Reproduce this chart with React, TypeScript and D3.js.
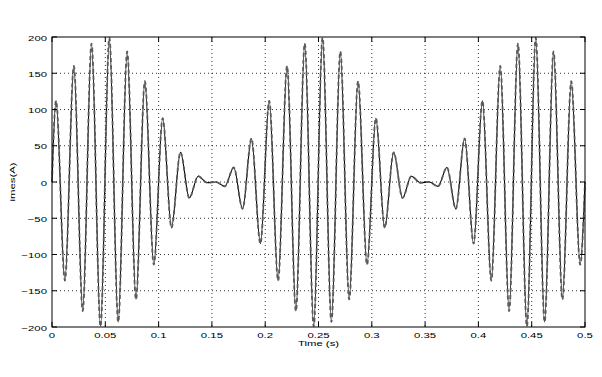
import React from "react";
import * as d3 from "d3";

// Extrema of the current trace (time in s, current in A)
const times = [
  0, 0.0038, 0.0121, 0.0205, 0.0288, 0.0371, 0.0455, 0.0538, 0.0621, 0.0705, 0.0788,
  0.0871, 0.0955, 0.1038, 0.1121, 0.1205, 0.1288, 0.1371, 0.1455, 0.1538, 0.1621,
  0.1705, 0.1788, 0.1871, 0.1955, 0.2038, 0.2121, 0.2205, 0.2288, 0.2371, 0.2455,
  0.2538, 0.2621, 0.2705, 0.2788, 0.2871, 0.2955, 0.3038, 0.3121, 0.3205, 0.3288,
  0.3371, 0.3455, 0.3538, 0.3621, 0.3705, 0.3788, 0.3871, 0.3955, 0.4038, 0.4121,
  0.4205, 0.4288, 0.4371, 0.4455, 0.4538, 0.4621, 0.4705, 0.4788, 0.4871, 0.4955, 0.5,
];
const imes = [
  0, 112, -136, 160, -178, 191, -199, 199, -193, 180, -162,
  139, -114, 88, -63, 41, -22, 8, -1, 0, -6,
  20, -37, 60, -85, 112, -136, 160, -178, 191, -199,
  199, -193, 180, -162, 139, -114, 88, -63, 41, -22,
  8, -1, 0, -6, 20, -37, 60, -85, 112, -136,
  160, -178, 191, -199, 199, -193, 180, -162, 139, -114, 0,
];
const xTicks = [0, 0.05, 0.1, 0.15, 0.2, 0.25, 0.3, 0.35, 0.4, 0.45, 0.5];
const yTicks = [-200, -150, -100, -50, 0, 50, 100, 150, 200];

const W = 602;
const H = 377;
const M = { left: 52, right: 17, top: 37, bottom: 50 };
const SX = 1.42;
const FS = 8;

export default function App() {
  const x = d3.scaleLinear().domain([0, 0.5]).range([M.left, W - M.right]);
  const y = d3.scaleLinear().domain([-200, 200]).range([H - M.bottom, M.top]);
  const pts: [number, number][] = times.map((t, i) => [t, imes[i]]);
  const line = d3
    .line<[number, number]>()
    .x((d) => x(d[0]))
    .y((d) => y(d[1]))
    .curve(d3.curveMonotoneX);
  const path = line(pts) || "";
  const x0 = M.left, x1 = W - M.right, y0 = M.top, y1 = H - M.bottom;
  const font = "Liberation Sans, Arial, Helvetica, sans-serif";
  const fmt = (v: number) => (v < 0 ? "\u2212" + Math.abs(v) : String(v));
  const label = (key: string, px: number, py: number, txt: string, anchor: string) => (
    <text
      key={key}
      transform={`translate(${px},${py}) scale(${SX},1)`}
      fontSize={FS}
      fontFamily={font}
      textAnchor={anchor}
    >
      {txt}
    </text>
  );
  return (
    <svg width={W} height={H} style={{ position: "absolute", left: 0, top: 0, background: "#fff" }}>
      <rect x={0} y={0} width={W} height={H} fill="#fff" />
      {/* grid */}
      {xTicks.slice(1, -1).map((t) => (
        <line key={"gx" + t} x1={x(t)} x2={x(t)} y1={y0} y2={y1} stroke="#000" strokeWidth={0.8} strokeDasharray="1,3" />
      ))}
      {yTicks.slice(1, -1).map((v) => (
        <line key={"gy" + v} x1={x0} x2={x1} y1={y(v)} y2={y(v)} stroke="#000" strokeWidth={0.8} strokeDasharray="1,3" />
      ))}
      {/* signal */}
      <path d={path} fill="none" stroke="#000" strokeWidth={1.1} />
      <path d={path} fill="none" stroke="#5a5a5a" strokeWidth={1.8} strokeDasharray="4,3" />
      {/* box */}
      <rect x={x0} y={y0} width={x1 - x0} height={y1 - y0} fill="none" stroke="#000" strokeWidth={1} />
      {/* ticks */}
      {xTicks.map((t) => (
        <g key={"tx" + t}>
          <line x1={x(t)} x2={x(t)} y1={y1} y2={y1 - 5} stroke="#000" />
          <line x1={x(t)} x2={x(t)} y1={y0} y2={y0 + 5} stroke="#000" />
          {label("lx" + t, x(t), y1 + 10.5, String(t), "middle")}
        </g>
      ))}
      {yTicks.map((v) => (
        <g key={"ty" + v}>
          <line x1={x0} x2={x0 + 5} y1={y(v)} y2={y(v)} stroke="#000" />
          <line x1={x1} x2={x1 - 5} y1={y(v)} y2={y(v)} stroke="#000" />
          {label("ly" + v, x0 - 5, y(v) + 3.5, fmt(v), "end")}
        </g>
      ))}
      {label("xl", (x0 + x1) / 2, y1 + 18.5, "Time (s)", "middle")}
      <text
        transform={`translate(15, ${(y0 + y1) / 2}) rotate(-90) scale(${SX},1)`}
        fontSize={FS}
        fontFamily={font}
        textAnchor="middle"
      >
        imes(A)
      </text>
    </svg>
  );
}
